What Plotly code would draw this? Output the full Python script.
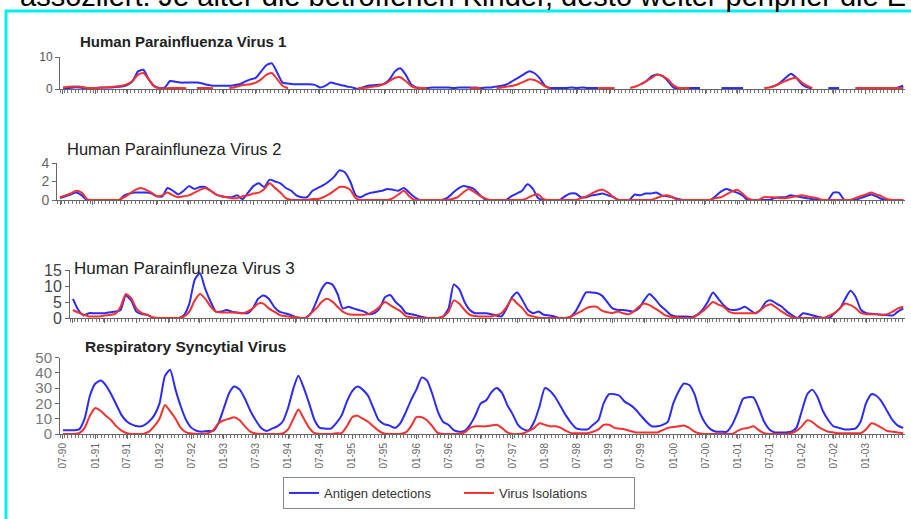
import plotly.graph_objects as go
import pandas as pd

# ---------------- data (monthly readings, Jul 1990 .. Aug 2003) ----------------
months = pd.date_range("1990-07-01", periods=158, freq="MS")

tick_labels = ["07-90", "01-91", "07-91", "01-92", "07-92", "01-93", "07-93", "01-94", "07-94",
               "01-95", "07-95", "01-96", "07-96", "01-97", "07-97", "01-98", "07-98", "01-99",
               "07-99", "01-00", "07-00", "01-01", "07-01", "01-02", "07-02", "01-03"]
tick_dates = ["1990-07-01", "1991-01-01", "1991-07-01", "1992-01-01", "1992-07-01", "1993-01-01",
              "1993-07-01", "1994-01-01", "1994-07-01", "1995-01-01", "1995-07-01", "1996-01-01",
              "1996-07-01", "1997-01-01", "1997-07-01", "1998-01-01", "1998-07-01", "1999-01-01",
              "1999-07-01", "2000-01-01", "2000-07-01", "2001-01-01", "2001-07-01", "2002-01-01",
              "2002-07-01", "2003-01-01"]

N = None
hpiv1_antigen = [0.3, 0.3, 0.5, 0.5, 0.3, 0.3, 0.3, 0.5, 0.5, 0.5, 0.6, 0.8, 1.2, 2.5, 5.5, 6, 3, 1, 0.3, 0.5,
                 2.5, 2.3, 2, 2, 2, 2, 1.7, 1.3, 1, 1, 1, 1, 1.2, 1.5, 2.3, 3, 3.5, 5.5, 7.5, 8,
                 5, 2, 1.7, 1.5, 1.5, 1.5, 1.5, 1.3, 0.5, 1, 2, 1.6, 1.2, 0.8, 0.5, 0, 0.5, 1, 1.2, 1.3,
                 1.6, 3, 5.5, 6.5, 4.5, 1.5, 0.5, 0.3, 0.3, 0.5, 0.5, 0.5, 0.5, 0.3, 0.5, 0.5, 0.5, 0.5, 0.3, 0.5,
                 0.5, 0.8, 1, 1.5, 2.5, 3.5, 4.5, 5.5, 5, 3.5, 1, 0.3, 0.3, 0.3, 0.3, 0.5, 0.3, 0.5, 0.3, 0.3,
                 0.3, N, N, N, N, N, N, N, 1.5, 2.5, 4, 4.5, 4, 2.5, 0.5, 0.2, 0.3, 0.3, 0.3, 0.3,
                 N, N, N, 0.3, 0.3, 0.3, 0.3, 0.3, N, N, N, N, 0.5, 1, 2, 3.5, 4.8, 3.5, 1.5, 0.5,
                 0.2, N, N, 0.3, 0.3, 0.3, N, N, N, N, N, N, N, N, N, N, 0.5, 1]
hpiv1_isolation = [0.5, 0.7, 0.8, 0.8, 0.5, 0.3, 0.3, 0.4, 0.5, 0.6, 0.8, 1, 1.5, 2.5, 4.5, 5, 3, 0.8, 0.2, 0.2,
                   0.3, 0.3, 0.3, 0.2, N, 0.3, 0.3, 0.3, 0.2, N, N, 0.3, 0.5, 1, 1.3, 1.5, 2, 3, 4.5, 5,
                   3, 1, 0.2, N, N, N, N, N, N, N, N, N, N, N, N, 0.2, 0.3, 0.5, 0.8, 1,
                   1.5, 2.5, 3.5, 3.7, 2.5, 1, 0.3, 0.3, 0.3, N, N, N, N, N, N, N, 0.3, 0.3, 0.3, N,
                   N, 0.3, 0.5, 0.8, 1, 1.5, 2.2, 3, 2.8, 2, 0.8, 0.2, N, N, N, N, N, N, N, N,
                   0.3, 0.3, 0.3, 0.3, N, N, 0.3, 0.8, 1.5, 2.5, 3.5, 4.5, 4, 3, 1.2, 0.3, 0.3, 0.3, N, N,
                   N, N, N, N, N, N, N, N, N, N, N, 0.3, 0.5, 1, 1.8, 2.5, 3.2, 3.5, 2, 1,
                   0.3, N, N, N, N, N, N, N, 0.3, 0.3, 0.3, 0.3, 0.3, 0.3, 0.3, 0.3, 0.3, 0.3]

hpiv2_antigen = [0.2, 0.4, 0.6, 0.8, 0.5, 0, 0, 0, 0, 0, 0, 0, 0.5, 0.7, 0.8, 0.8, 0.8, 0.7, 0.4, 0.4,
                 1.3, 1, 0.6, 1, 1.5, 1.2, 1.4, 1.4, 1, 0.6, 0.4, 0.3, 0.3, 0.5, 0.1, 0.8, 1.5, 1.8, 1.4, 2.2,
                 2, 1.8, 1.3, 1, 0.5, 0.3, 0.3, 1, 1.3, 1.6, 2, 2.5, 3.2, 3, 2, 0.5, 0.3, 0.6, 0.8, 0.9,
                 1, 1.2, 1.1, 1, 1.3, 0.8, 0.3, 0, 0, 0, 0, 0, 0.2, 0.7, 1.2, 1.5, 1.4, 1.2, 0.6, 0.1,
                 0, 0, 0, 0, 0.4, 0.7, 1, 1.7, 1.2, 0.2, 0, 0, 0, 0, 0.4, 0.7, 0.7, 0.3, 0.3, 0.5,
                 0.6, 0.7, 0.5, 0.3, 0, 0, 0, 0.6, 0.5, 0.7, 0.7, 0.8, 0.5, 0.4, 0.3, 0.1, 0, 0, 0, 0,
                 0, 0, 0.4, 0.9, 1.2, 1, 0.8, 0.5, 0, 0, 0, 0, 0, 0.2, 0.3, 0.3, 0.5, 0.4, 0.3, 0.2,
                 0.1, 0, 0, 0, 0.8, 0.8, 0, 0, 0, 0.2, 0.4, 0.6, 0.4, 0.1, 0, 0, 0, 0]
hpiv2_isolation = [0.3, 0.5, 0.7, 1, 0.8, 0.1, 0, 0, 0, 0, 0, 0, 0.3, 0.7, 1.1, 1.3, 1.1, 0.8, 0.4, 0.5,
                   0.8, 0.5, 0.3, 0.4, 0.5, 0.8, 1.1, 1.3, 1, 0.6, 0.4, 0.3, 0.2, 0.2, 0.4, 0.5, 0.7, 0.8, 1.2, 1.8,
                   1.3, 0.8, 0.2, 0, 0, 0, 0, 0.1, 0.1, 0.3, 0.6, 1, 1.4, 1.4, 1.1, 0.2, 0, 0, 0, 0,
                   0, 0, 0.2, 0.6, 1, 0.4, 0, 0, 0, 0, 0, 0, 0, 0.1, 0.3, 0.8, 1.2, 0.9, 0.5, 0.2,
                   0, 0, 0, 0, 0, 0, 0, 0.2, 0.5, 0.6, 0.1, 0, 0, 0, 0, 0, 0, 0.2, 0.4, 0.7,
                   1, 1.1, 0.8, 0.3, 0, 0, 0, 0, 0, 0, 0, 0.2, 0.4, 0.5, 0.3, 0, 0, 0, 0, 0,
                   0, 0, 0.2, 0.3, 0.6, 0.9, 1.1, 0.7, 0.2, 0, 0, 0.3, 0.3, 0.3, 0.2, 0.2, 0.3, 0.4, 0.5, 0.4,
                   0.3, 0.2, 0, 0, 0, 0, 0, 0, 0.2, 0.4, 0.6, 0.8, 0.6, 0.4, 0.1, 0, 0, 0]

hpiv3_antigen = [6, 2.5, 0.8, 1.5, 1.5, 1.5, 1.5, 1.8, 2, 2.5, 7, 5.5, 2, 1.2, 1, 0.2, 0, 0, 0, 0,
                 0, 1, 4.5, 12, 14, 9, 5, 2, 2, 2.5, 2, 1.7, 1.5, 1.5, 3, 6, 7, 6, 3.5, 2,
                 1.5, 1, 0.3, 0, 0, 1.5, 5, 9, 11, 10.5, 7.5, 3, 3.5, 3, 2.5, 2, 1.2, 1.5, 3, 6.5,
                 7.2, 5, 3.5, 1.5, 1.2, 0.8, 0.3, 0, 0, 0, 0.5, 3, 10.5, 9, 5, 2.5, 1.5, 1.5, 1.5, 1.2,
                 0.8, 0.5, 3, 6.5, 8, 5.5, 2.5, 1.5, 2, 1, 0.8, 0.5, 0, 0, 0.3, 2, 5, 8, 8, 7.8,
                 7, 5, 3, 2.5, 2.5, 2.3, 2, 3, 5.5, 7.5, 6, 4, 2.5, 1, 0.5, 0.5, 0.5, 0.3, 1, 2.5,
                 5, 8, 6, 4, 2.7, 2.5, 2.8, 3.5, 2.5, 1.5, 2.5, 5, 5.5, 4.5, 3.5, 2, 0.8, 0, 1.5, 1.2,
                 0.8, 0.3, 0, 0, 1.5, 3, 6, 8.5, 6.5, 2.5, 1.5, 1.3, 1.2, 1, 0.9, 0.8, 2, 3]
hpiv3_isolation = [2.5, 1.7, 1, 0.5, 0.5, 0.5, 0.8, 1, 1.3, 3.5, 7.5, 6.2, 3, 1.5, 1, 0.2, 0, 0, 0, 0,
                   0, 0.5, 2, 5.5, 7.5, 6, 3.5, 2, 1.7, 1.7, 1.7, 1.6, 1.5, 2, 3, 4.5, 4.5, 3, 2, 1,
                   0.6, 0.4, 0.2, 0, 0, 1.5, 3, 5, 6, 5.2, 3.5, 2, 1.2, 1, 1, 1, 1.3, 2.2, 3.5, 5,
                   4, 3, 2, 0.5, 0.2, 0, 0, 0, 0, 0, 0.5, 2, 5.5, 4.5, 2.5, 1, 0.6, 0.5, 0.5, 0.5,
                   0.9, 1.5, 3.5, 6, 4.5, 3, 1, 0.5, 0.1, 0, 0, 0, 0, 0, 0.3, 1.2, 2, 3, 3.5, 3.5,
                   2.3, 1.8, 1.6, 2, 1.5, 1.2, 2, 3.5, 4.5, 4, 3, 2, 0.8, 0.4, 0.2, 0, 0, 0, 0.8, 2,
                   3.5, 5, 4.2, 3.5, 2, 1.5, 1.5, 1.5, 1.5, 1.5, 2.5, 3.8, 4.3, 3.2, 2, 1, 0.2, 0, 0, 0,
                   0, 0, 0, 0.8, 1.5, 3, 4.5, 4, 3, 1.5, 1.2, 1.2, 1.2, 1, 1.2, 2, 3, 3.5]

rsv_antigen = [2.5, 2.5, 2.5, 3, 10, 25, 33, 35, 32, 26, 19, 12, 8, 6, 5, 5.5, 8, 12, 20, 38,
               42, 29, 18, 9, 4, 2, 1.5, 2, 2, 7, 17, 27, 31, 29, 23, 15, 9, 4, 2, 3.5,
               5, 8, 17, 30, 38, 30, 20, 9, 4, 3.5, 3.5, 7, 12, 21, 28, 31, 29, 25, 17, 9,
               6.5, 5.5, 4, 7, 14, 22, 29, 37, 35, 26, 15, 8, 6, 2.5, 1.5, 2, 6, 12, 20, 22,
               27, 30, 27, 19, 13, 6, 3, 2.5, 8, 18, 30, 28, 24, 18, 12, 7, 3.5, 3, 3, 6,
               9, 20, 26, 26, 25, 21, 19, 16, 12, 8, 5, 5, 6, 8, 20, 28, 33, 32, 26, 14,
               7, 3, 1.5, 1.5, 1.5, 6, 14, 23, 24, 24, 17, 8, 3, 1, 1, 1, 1.5, 4, 15, 26,
               29, 24, 15, 9, 5, 4, 3, 3, 3.5, 8, 20, 26, 25, 21, 15, 9, 5.5, 4]
rsv_isolation = [0, 0, 0, 0.5, 4, 12, 17, 15, 12, 9, 5, 2, 0.5, 0, 0, 0, 1.5, 5, 10, 19,
                 15, 10, 4, 1, 0.3, 0, 0, 0.5, 2.5, 7, 9, 10, 11, 9, 5, 1.5, 0.3, 0, 0, 0,
                 0, 0.3, 3, 10, 16, 10, 4, 0.5, 0, 0, 0, 0.5, 0.5, 5, 11, 12, 10, 8, 5, 2,
                 0.3, 0, 0, 0, 1, 5, 11, 11, 9, 5, 0.8, 0, 0, 0, 0, 1, 4, 5, 5, 5,
                 5.5, 6, 4, 1, 0, 0, 0.5, 2, 4, 7, 6, 5, 5, 4, 2, 0.5, 0.5, 0.5, 0.5, 1.5,
                 3, 6, 6, 4, 3.5, 3, 2, 1, 1, 1, 1, 1, 2.5, 4, 4.5, 5, 5.5, 4, 1.5, 0.3,
                 0, 0, 0, 0, 0, 0, 2, 3.5, 4, 5, 2.5, 0.5, 0, 0, 0, 0, 0.5, 2, 5, 9,
                 8, 5, 3, 1.5, 1, 0.5, 0.5, 0.5, 0.5, 0.5, 3, 7, 6, 4, 2, 1.5, 1, 0.5]

panels = [
    ("Human Parainfluenza Virus 1", hpiv1_antigen, hpiv1_isolation),
    ("Human Parainfluneza Virus 2", hpiv2_antigen, hpiv2_isolation),
    ("Human Parainfluneza Virus 3", hpiv3_antigen, hpiv3_isolation),
    ("Respiratory Syncytial Virus", rsv_antigen, rsv_isolation),
]

# ---------------- styling / layout ----------------
W, H = 911, 519
BLUE = "#2b2bf5"
RED = "#f53030"
FONT = "Liberation Sans, Arial, sans-serif"

def px(x):
    return x / W

def py(y):
    return 1 - y / H

# (x_left, x_right, y_zero_px, y_top_px, ymax, dtick, tickfont size, tickcolor)
geom = [
    (60, 905, 89, 57, 10, 10, 12, "#555555"),
    (57, 905, 200, 163, 4, 2, 14, "#666666"),
    (70, 905, 318, 270, 15, 5, 16, "#444444"),
    (60, 905, 434, 357.5, 50, 10, 15, "#777777"),
]
titles_pos = [(78, 42, 15, True), (65, 149, 16.5, False), (72, 268, 17, False), (83, 346, 15.5, True)]

x_range = ["1990-06-14", "2003-08-11"]
THREE_WEEKS = 21 * 24 * 3600 * 1000

fig = go.Figure()
layout = dict(
    width=W, height=H,
    margin=dict(l=0, r=0, t=0, b=0, pad=0, autoexpand=False),
    paper_bgcolor="white", plot_bgcolor="white",
    font=dict(family=FONT, color="#333333"),
)

annotations = []
for k, ((title, ant, iso), g, tp) in enumerate(zip(panels, geom, titles_pos)):
    n = k + 1
    xa = "x" if n == 1 else f"x{n}"
    ya = "y" if n == 1 else f"y{n}"
    xl, xr, y0, y1, ymax, dt, tfs, tcol = g
    fig.add_trace(go.Scatter(x=months, y=ant, mode="lines", name="Antigen detections",
                             line=dict(color=BLUE, width=2, shape="spline", smoothing=0.6),
                             xaxis=xa, yaxis=ya, showlegend=(n == 4), connectgaps=False))
    fig.add_trace(go.Scatter(x=months, y=iso, mode="lines", name="Virus Isolations",
                             line=dict(color=RED, width=2, shape="spline", smoothing=0.6),
                             xaxis=xa, yaxis=ya, showlegend=(n == 4), connectgaps=False))
    xkey = "xaxis" if n == 1 else f"xaxis{n}"
    ykey = "yaxis" if n == 1 else f"yaxis{n}"
    layout[xkey] = dict(
        domain=[px(xl), px(xr)], anchor=ya, type="date", range=x_range,
        showline=True, linecolor="#666666", linewidth=1, showgrid=False, zeroline=False,
        tickmode="array", tickvals=tick_dates, ticktext=tick_labels if n == 4 else [""] * len(tick_dates),
        ticks="outside", ticklen=4, tickcolor="#666666", tickangle=-90,
        tickfont=dict(size=10, color="#666666", family=FONT),
        minor=dict(ticks="outside", ticklen=3, tickcolor="#777777", dtick=THREE_WEEKS,
                   tick0="1990-06-17", showgrid=False),
        fixedrange=True,
    )
    layout[ykey] = dict(
        domain=[py(y0), py(y1)], anchor=xa, range=[0, ymax],
        showline=True, linecolor="#666666", linewidth=1, showgrid=False, zeroline=False,
        tickmode="linear", tick0=0, dtick=dt, ticks="outside", ticklen=4, tickcolor="#666666",
        tickfont=dict(size=tfs, color=tcol, family=FONT), fixedrange=True,
    )
    tx, ty, tsz, bold = tp
    annotations.append(dict(
        text=f"<b>{title}</b>" if bold else title, x=px(tx), y=py(ty), xref="paper", yref="paper",
        xanchor="left", yanchor="middle", showarrow=False,
        font=dict(size=tsz, color="#222222", family=FONT)))

# cut-off text above the frame
annotations.append(dict(
    text="assoziiert: Je älter die betroffenen Kinder, desto weiter peripher die E",
    x=px(18), y=py(-4), xref="paper", yref="paper", xanchor="left", yanchor="middle",
    showarrow=False, font=dict(size=29, color="#000000", family=FONT)))

layout["annotations"] = annotations
layout["shapes"] = [dict(type="rect", xref="paper", yref="paper",
                         x0=px(6), x1=px(W + 10), y0=py(H + 10), y1=py(11),
                         line=dict(color="#00f0f0", width=3), fillcolor="rgba(0,0,0,0)")]
layout["legend"] = dict(
    orientation="h", x=px(283), y=py(477), xanchor="left", yanchor="top",
    bordercolor="#888888", borderwidth=1, bgcolor="white",
    font=dict(size=13, color="#333333", family=FONT),
    entrywidth=130, entrywidthmode="pixels", itemwidth=30,
)
fig.update_layout(**layout)
fig.write_html("out.html", config={"displayModeBar": False, "staticPlot": False},
               post_script="document.body.style.margin='0';document.body.style.overflow='hidden';")
